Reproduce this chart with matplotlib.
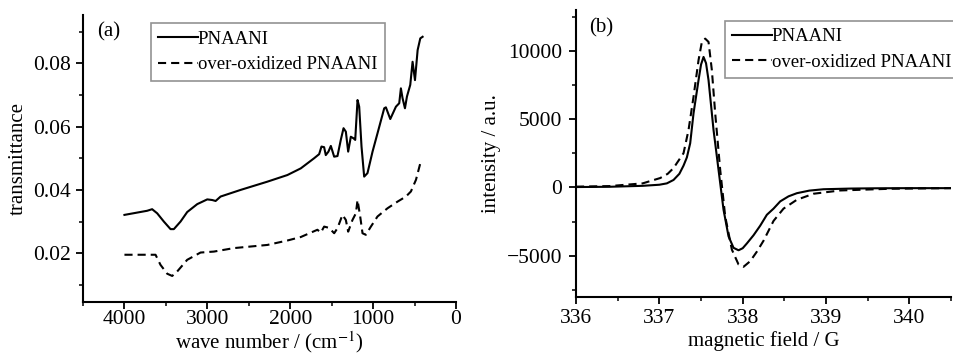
import matplotlib
matplotlib.use("Agg")
import matplotlib.pyplot as plt
from matplotlib.ticker import MultipleLocator

plt.rcParams['font.family'] = ['Liberation Serif', 'DejaVu Serif']
plt.rcParams['mathtext.fontset'] = 'stix'

# ---- panel (a) data: FTIR ----
wn_a = [4000, 3726, 3666, 3605, 3525, 3444, 3404, 3323, 3243, 3122, 3001, 2941, 2900, 2840,
        2598, 2276, 2034, 1873, 1712, 1651, 1623, 1591, 1571, 1539, 1510, 1470, 1430, 1390,
        1357, 1329, 1301, 1269, 1236, 1216, 1188, 1168, 1140, 1108, 1068, 1007, 947, 866,
        846, 793, 725, 685, 665, 645, 616, 592, 552, 524, 495, 463, 431, 403]
pnaani_a = [0.0321, 0.0334, 0.0339, 0.0326, 0.0300, 0.0276, 0.0276, 0.0300, 0.0330, 0.0355,
            0.0370, 0.0368, 0.0365, 0.0379, 0.0400, 0.0426, 0.0447, 0.0468, 0.0500, 0.0513,
            0.0537, 0.0535, 0.0510, 0.0521, 0.0539, 0.0505, 0.0507, 0.0558, 0.0595, 0.0584,
            0.0521, 0.0568, 0.0563, 0.0558, 0.0684, 0.0663, 0.0537, 0.0442, 0.0453, 0.0521,
            0.0579, 0.0658, 0.0661, 0.0624, 0.0663, 0.0674, 0.0721, 0.0690, 0.0658, 0.0695,
            0.0732, 0.0805, 0.0747, 0.0842, 0.0879, 0.0884]

wn_b = [4000, 3726, 3625, 3565, 3484, 3424, 3364, 3243, 3082, 2921, 2680, 2276, 2034, 1873,
        1672, 1631, 1591, 1531, 1470, 1430, 1370, 1329, 1301, 1249, 1208, 1188, 1156, 1128,
        1088, 1027, 947, 826, 705, 604, 544, 483, 431, 403]
overox_a = [0.0195, 0.0195, 0.0195, 0.0163, 0.0135, 0.0128, 0.0142, 0.0179, 0.0202, 0.0205,
            0.0216, 0.0226, 0.0240, 0.0251, 0.0274, 0.0265, 0.0284, 0.0280, 0.0263, 0.0279,
            0.0321, 0.0305, 0.0268, 0.0305, 0.0326, 0.0368, 0.0316, 0.0263, 0.0258, 0.0284,
            0.0316, 0.0342, 0.0363, 0.0379, 0.0395, 0.0432, 0.0484, 0.0482]

# ---- panel (b) data: EPR ----
field_s = [336.0, 336.4, 336.8, 337.0, 337.09, 337.17, 337.24, 337.29, 337.33, 337.37,
           337.41, 337.47, 337.50, 337.53, 337.56, 337.59, 337.65, 337.71, 337.77, 337.83,
           337.89, 337.95, 338.00, 338.05, 338.13, 338.21, 338.29, 338.37, 338.45, 338.55,
           338.65, 338.80, 338.97, 339.3, 339.6, 340.0, 340.5]
pnaani_b = [30, 50, 120, 200, 300, 550, 1000, 1600, 2200, 3240,
            5430, 7860, 9000, 9560, 9100, 7860, 4210, 1290, -1630, -3580,
            -4420, -4600, -4450, -4100, -3500, -2800, -2000, -1550, -1020, -650,
            -420, -230, -130, -80, -60, -50, -50]

field_d = [336.0, 336.4, 336.8, 337.01, 337.10, 337.17, 337.29, 337.35, 337.41, 337.47,
           337.51, 337.55, 337.59, 337.63, 337.67, 337.73, 337.79, 337.87, 337.95, 338.01,
           338.09, 338.17, 338.25, 338.37, 338.49, 338.65, 338.85, 339.17, 339.77, 340.5]
overox_b = [60, 100, 300, 690, 1000, 1420, 2510, 4210, 6640, 9320,
            10660, 10900, 10660, 8590, 5430, 1290, -2120, -4550, -5640, -5810,
            -5400, -4700, -3900, -2450, -1550, -900, -460, -220, -95, -50]

labels = ['PNAANI', 'over-oxidized PNAANI']

fig = plt.figure(figsize=(9.54, 3.56), dpi=100)
axA = fig.add_axes([0.087, 0.152, 0.391, 0.806])
axB = fig.add_axes([0.6038, 0.1666, 0.3931, 0.8054])

dash = (0, (3.9, 2.4))
FS_T = 15.5   # tick labels
FS_L = 15     # axis labels
FS_G = 13.5   # legend

for ax in (axA, axB):
    for s in ('top', 'right'):
        ax.spines[s].set_visible(False)
    for s in ('left', 'bottom'):
        ax.spines[s].set_linewidth(1.5)
    ax.tick_params(which='major', direction='out', length=5, width=1.3, labelsize=FS_T)
    ax.tick_params(which='minor', direction='out', length=3, width=1.1)

axA.tick_params(axis='x', which='major', pad=0.5)
axA.tick_params(axis='y', which='major', pad=3.5)
axB.tick_params(axis='x', which='major', pad=4)
axB.tick_params(axis='y', which='major', pad=5)

axA.plot(wn_a, pnaani_a, color='black', lw=1.5, label=labels[0])
axA.plot(wn_b, overox_a, color='black', lw=1.5, linestyle=dash, label=labels[1])
axA.set_xlim(4500, 0)
axA.set_ylim(0.0046, 0.0953)
axA.xaxis.set_minor_locator(MultipleLocator(500))
axA.yaxis.set_minor_locator(MultipleLocator(0.01))
axA.set_xticks([4000, 3000, 2000, 1000, 0])
axA.set_yticks([0.02, 0.04, 0.06, 0.08])
axA.set_yticklabels(['0.02', '0.04', '0.06', '0.08'])
axA.set_xlabel('wave number / (cm$^{-1}$)', fontsize=FS_L)
axA.xaxis.set_label_coords(0.5, -0.095)
axA.set_ylabel('transmittance', fontsize=FS_L, labelpad=4)
axA.text(0.037, 0.942, '(a)', transform=axA.transAxes, fontsize=FS_L, va='center', ha='left')
legA = axA.legend(loc='upper left', bbox_to_anchor=(150.7/954, 1-23.3/356),
                  bbox_transform=fig.transFigure, fontsize=FS_G, frameon=True, fancybox=False,
                  handlelength=2.1, handletextpad=0.0, borderpad=0.4, labelspacing=0.45,
                  borderaxespad=0)
legA.get_frame().set_edgecolor('#777777')
legA.get_frame().set_linewidth(1.2)

axB.plot(field_s, pnaani_b, color='black', lw=1.5, label=labels[0])
axB.plot(field_d, overox_b, color='black', lw=1.5, linestyle=dash, label=labels[1])
axB.set_xlim(336, 340.5)
axB.set_ylim(-8000, 13000)
axB.xaxis.set_major_locator(MultipleLocator(1))
axB.xaxis.set_minor_locator(MultipleLocator(0.5))
axB.yaxis.set_major_locator(MultipleLocator(5000))
axB.yaxis.set_minor_locator(MultipleLocator(2500))
axB.set_xlabel('magnetic field / G', fontsize=FS_L)
axB.xaxis.set_label_coords(0.5, -0.12)
axB.set_ylabel('intensity / a.u.', fontsize=FS_L, labelpad=4)
axB.text(0.034, 0.937, '(b)', transform=axB.transAxes, fontsize=FS_L, va='center', ha='left')
legB = axB.legend(loc='upper left', bbox_to_anchor=(725/954, 1-20.7/356),
                  bbox_transform=fig.transFigure, fontsize=FS_G, frameon=True, fancybox=False,
                  handlelength=2.1, handletextpad=0.0, borderpad=0.4, labelspacing=0.45,
                  borderaxespad=0)
legB.get_frame().set_edgecolor('#777777')
legB.get_frame().set_linewidth(1.2)

fig.savefig('out.png', dpi=100)
